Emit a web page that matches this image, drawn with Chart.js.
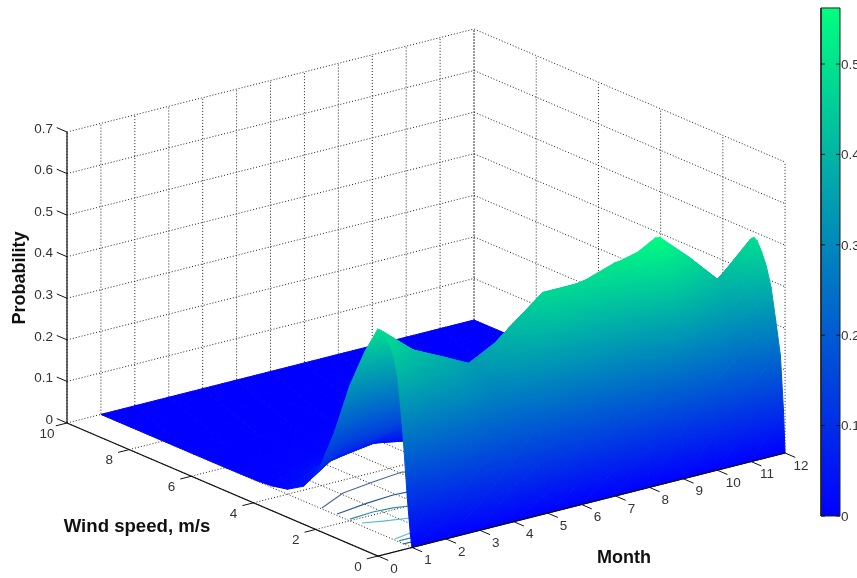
<!DOCTYPE html>
<html>
<head>
<meta charset="utf-8">
<title>Wind speed probability</title>
<script src="https://cdn.jsdelivr.net/npm/chart.js@4/dist/chart.umd.min.js"></script>
<style>
  html, body { margin: 0; background: #fff; }
  canvas { display: block; }
</style>
</head>
<body>
<canvas id="surfaceChart" width="857" height="578"></canvas>
<script>
const months = [1, 2, 3, 4, 5, 6, 7, 8, 9, 10, 11, 12];
const windSpeeds = [0, .05, .15, .3, .45, .6, .75, .9, 1, 1.1, 1.25, 1.5, 1.75, 2, 2.25, 2.5, 3, 3.5, 4, 4.5, 5, 6, 7, 10];

// probability per month, one value per wind speed
const probMonth1  = [0, .03, .115, .275, .395, .445, .47, .485, .49, .49, .465, .425, .375, .325, .26, .195, .09, .035, .012, .004, .001, 0, 0, 0];
const probMonth2  = [0, .04, .12, .235, .31, .36, .39, .41, .42, .42, .41, .40, .36, .32, .27, .225, .145, .09, .05, .022, .008, .001, 0, 0];
const probMonth3  = [0, .06, .13, .22, .285, .33, .355, .372, .378, .38, .375, .36, .335, .295, .26, .225, .15, .105, .065, .033, .014, .002, 0, 0];
const probMonth4  = [0, .08, .13, .19, .24, .275, .30, .318, .328, .333, .337, .33, .31, .285, .25, .22, .155, .115, .08, .045, .022, .004, 0, 0];
const probMonth5  = [0, .045, .12, .20, .265, .315, .35, .38, .395, .403, .405, .372, .34, .31, .27, .22, .14, .09, .055, .03, .016, .003, 0, 0];
const probMonth6  = [0, .05, .13, .23, .31, .37, .42, .455, .468, .474, .47, .44, .39, .33, .26, .20, .115, .065, .035, .017, .008, .001, 0, 0];
const probMonth7  = [0, .06, .15, .25, .33, .39, .43, .46, .472, .478, .47, .43, .375, .31, .245, .185, .10, .055, .028, .013, .005, .001, 0, 0];
const probMonth8  = [0, .09, .19, .29, .37, .43, .475, .505, .51, .505, .485, .43, .36, .29, .22, .165, .085, .04, .018, .007, .002, 0, 0, 0];
const probMonth9  = [0, .11, .24, .37, .46, .525, .556, .55, .53, .505, .46, .39, .32, .25, .19, .14, .07, .03, .012, .004, .001, 0, 0, 0];
const probMonth10 = [0, .09, .20, .30, .375, .43, .47, .483, .48, .47, .445, .39, .33, .265, .205, .155, .085, .04, .018, .007, .002, 0, 0, 0];
const probMonth11 = [0, .09, .175, .255, .31, .35, .38, .397, .402, .40, .385, .35, .31, .265, .22, .175, .105, .055, .027, .012, .004, 0, 0, 0];
const probMonth12 = [0, .10, .23, .31, .385, .43, .46, .482, .487, .48, .455, .39, .31, .24, .18, .13, .065, .03, .012, .004, .001, 0, 0, 0];
const probTable = [probMonth1, probMonth2, probMonth3, probMonth4, probMonth5, probMonth6,
                   probMonth7, probMonth8, probMonth9, probMonth10, probMonth11, probMonth12];

// contour lines under the surface
const contourMonths = [
  [1.04, 2.08, 3.11, 4.08, 4.18],
  [1.06, 2.09, 2.92, 3.33],
  [1.08, 1.81, 2.36, 2.74],
  [1.13, 1.61, 2.24],
  [1.05, 1.59],
  [1.04, 1.39],
  [.98, 1.24]
];
const contourWinds = [
  [2.94, 3.39, 3.56, 3.68, 3.62],
  [2.47, 2.63, 2.70, 2.67],
  [2.08, 2.14, 2.09, 1.99],
  [1.75, 1.59, 1.41],
  [.60, .70],
  [.46, .46],
  [.27, .26]
];
const contourColors = ['#4a6a9a', '#2a5a90', '#2a8f9f', '#55c0c0', '#55c0c0', '#2a8f9f', '#2a5a90'];

// tick labels
const monthTicks = [0, 1, 2, 3, 4, 5, 6, 7, 8, 9, 10, 11, 12];
const windTicks = [0, 2, 4, 6, 8, 10];
const probTicks = [0, .1, .2, .3, .4, .5, .6, .7];
const colorbarTicks = [0, .1, .2, .3, .4, .5];
const colorbarMax = .562;

// view of the box, in page pixels
const view = { ox: 378, oy: 556, mx: 33.92, my: -8.583, wx: -31.1, wy: -13.3, zy: -415.7 };

function project(month, wind, prob) {
  return {
    x: view.ox + month * view.mx + wind * view.wx,
    y: view.oy + month * view.my + wind * view.wy + prob * view.zy
  };
}

function line(points, color, width, dash) {
  return {
    type: 'scatter', showLine: true, data: points, borderColor: color, borderWidth: width,
    borderDash: dash || [], pointRadius: 0, fill: false, tension: 0
  };
}

// winter colormap, blue to spring green
function winter(p) {
  const t = Math.min(1, Math.max(0, p / colorbarMax));
  return `rgb(0, ${Math.round(255 * t)}, ${Math.round(255 - 127 * t)})`;
}

// z is linear over a triangle, so a two stop gradient gives the exact shading
function triangleShade(chart, tri) {
  if (tri.shade) return tri.shade;
  const sx = chart.scales.x, sy = chart.scales.y;
  const [a, b, c] = tri.map(v => {
    const p = project(v.month, v.wind, v.prob);
    return { x: sx.getPixelForValue(p.x), y: sy.getPixelForValue(p.y), z: v.prob };
  });
  // options can be asked for before the scales have a layout
  if (![a.x, a.y, b.x, b.y, c.x, c.y].every(Number.isFinite) || chart.chartArea == null) return winter(a.z);
  const det = (b.x - a.x) * (c.y - a.y) - (c.x - a.x) * (b.y - a.y);
  const gx = ((b.z - a.z) * (c.y - a.y) - (c.z - a.z) * (b.y - a.y)) / det;
  const gy = ((c.z - a.z) * (b.x - a.x) - (b.z - a.z) * (c.x - a.x)) / det;
  const len = gx * gx + gy * gy;
  if (Math.abs(det) < 1e-3 || !(len > 1e-12)) {
    tri.shade = winter((a.z + b.z + c.z) / 3);
    return tri.shade;
  }
  const g = chart.ctx.createLinearGradient(
    a.x - a.z * gx / len, a.y - a.z * gy / len,
    a.x + (colorbarMax - a.z) * gx / len, a.y + (colorbarMax - a.z) * gy / len
  );
  g.addColorStop(0, winter(0));
  g.addColorStop(1, winter(colorbarMax));
  tri.shade = g;
  return g;
}

function triangleDataset(tri) {
  const shade = c => triangleShade(c.chart, tri);
  const pts = tri.map(v => project(v.month, v.wind, v.prob));
  pts.push(pts[0]);
  return {
    type: 'scatter', showLine: true, data: pts, fill: 'shape', tension: 0,
    backgroundColor: shade, borderColor: shade, borderWidth: 1, pointRadius: 0
  };
}

// first dataset is drawn on top, so go from the near corner to the far one
const datasets = [];

// axis lines and ticks
const dark = '#111';
datasets.push(line([project(0, 10, 0), project(0, 0, 0), project(12, 0, 0)], dark, 1.2));
datasets.push(line([project(0, 10, 0), project(0, 10, .7)], dark, 1.2));
monthTicks.forEach(m => datasets.push(line([project(m, 0, 0), project(m, -.33, 0)], dark, 1)));
windTicks.forEach(w => datasets.push(line([project(0, w, 0), project(-.33, w, 0)], dark, 1)));
probTicks.forEach(p => datasets.push(line([project(0, 10, p), project(0, 10.33, p)], dark, 1)));

// surface
for (let i = 0; i < months.length - 1; i++) {
  for (let j = 0; j < windSpeeds.length - 1; j++) {
    const v = (a, b) => ({ month: months[a], wind: windSpeeds[b], prob: probTable[a][b] });
    datasets.push(triangleDataset([v(i, j), v(i + 1, j), v(i + 1, j + 1)]));
    datasets.push(triangleDataset([v(i, j), v(i + 1, j + 1), v(i, j + 1)]));
  }
}

// contours on the floor
contourMonths.forEach((ms, k) => {
  const pts = ms.map((m, n) => project(m, contourWinds[k][n], 0));
  datasets.push(line(pts, contourColors[k], 1.2));
});

// dotted grid on floor and walls
const dots = [1, 2];
const gridColor = '#222';
monthTicks.forEach(m => {
  datasets.push(line([project(m, 0, 0), project(m, 10, 0), project(m, 10, .7)], gridColor, 1, dots));
});
windTicks.forEach(w => {
  datasets.push(line([project(0, w, 0), project(12, w, 0), project(12, w, .7)], gridColor, 1, dots));
});
probTicks.forEach(p => {
  if (p > 0) datasets.push(line([project(0, 10, p), project(12, 10, p), project(12, 0, p)], gridColor, 1, dots));
});

// colorbar on its own value axis
const cbLeft = 821, cbRight = 840;
colorbarTicks.forEach(p => {
  const left = line([{ x: cbLeft, y: p }, { x: cbLeft + 4, y: p }], dark, 1);
  const right = line([{ x: cbRight - 4, y: p }, { x: cbRight, y: p }], dark, 1);
  left.yAxisID = 'yBar';
  right.yAxisID = 'yBar';
  datasets.push(left, right);
});
datasets.push({
  type: 'scatter', showLine: true, yAxisID: 'yBar', tension: 0, fill: 'shape', pointRadius: 0,
  data: [
    { x: cbLeft, y: 0 }, { x: cbRight, y: 0 }, { x: cbRight, y: colorbarMax },
    { x: cbLeft, y: colorbarMax }, { x: cbLeft, y: 0 }
  ],
  borderColor: '#222', borderWidth: 1,
  backgroundColor: c => {
    const yBar = c.chart.scales.yBar;
    const y0 = yBar.getPixelForValue(0), y1 = yBar.getPixelForValue(colorbarMax);
    if (!Number.isFinite(y0) || !Number.isFinite(y1)) return winter(0);
    const g = c.chart.ctx.createLinearGradient(0, y0, 0, y1);
    g.addColorStop(0, winter(0));
    g.addColorStop(1, winter(colorbarMax));
    return g;
  }
});

const tickFont = '13.5px "Liberation Sans", Arial, sans-serif';
const titleFont = 'bold 18px "Liberation Sans", Arial, sans-serif';

const axisText = {
  id: 'axisText',
  afterDraw(chart) {
    const { ctx, scales } = chart;
    const px = p => ({ x: scales.x.getPixelForValue(p.x), y: scales.y.getPixelForValue(p.y) });
    ctx.save();
    ctx.fillStyle = '#333';
    ctx.font = tickFont;
    ctx.textBaseline = 'middle';

    ctx.textAlign = 'center';
    monthTicks.forEach(m => {
      const p = px(project(m, 0, 0));
      ctx.fillText(String(m), p.x + 16, p.y + 13);
    });
    windTicks.forEach(w => {
      const p = px(project(0, w, 0));
      ctx.fillText(String(w), p.x - 20, p.y + 11);
    });

    ctx.textAlign = 'right';
    probTicks.forEach(v => {
      const p = px(project(0, 10, v));
      ctx.fillText(String(v), p.x - 14, p.y - 3);
    });

    ctx.textAlign = 'left';
    colorbarTicks.forEach(v => {
      ctx.fillText(String(v), cbRight + 1, scales.yBar.getPixelForValue(v) + 1);
    });

    ctx.fillStyle = '#111';
    ctx.font = 'bold 18.6px "Liberation Sans", Arial, sans-serif';
    ctx.textAlign = 'center';
    ctx.fillText('Wind speed, m/s', 137, 527);
    ctx.font = titleFont;
    ctx.fillText('Month', 624, 558);
    ctx.translate(20, 278);
    ctx.rotate(-Math.PI / 2);
    ctx.fillText('Probability', 0, 0);
    ctx.restore();
  }
};

new Chart(document.getElementById('surfaceChart').getContext('2d'), {
  type: 'scatter',
  data: { datasets },
  plugins: [axisText],
  options: {
    responsive: false,
    animation: false,
    events: [],
    clip: false,
    layout: { padding: 0 },
    scales: {
      x: { type: 'linear', min: 0, max: 857, display: false },
      y: { type: 'linear', min: 0, max: 578, reverse: true, display: false },
      yBar: { type: 'linear', min: -.0686, max: .5708, display: false }
    },
    plugins: { legend: { display: false }, tooltip: { enabled: false } }
  }
});
</script>
</body>
</html>
